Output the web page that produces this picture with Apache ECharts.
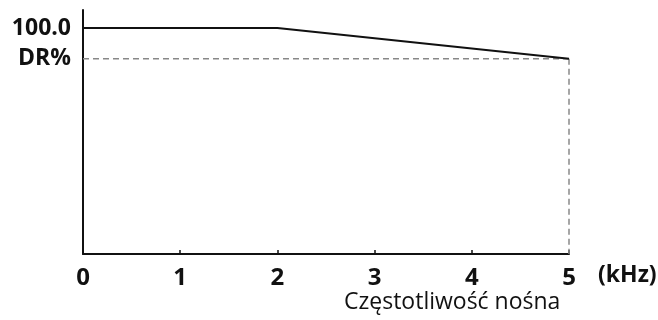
<!DOCTYPE html>
<html>
<head>
<meta charset="utf-8">
<script src="https://cdn.jsdelivr.net/npm/echarts@6/dist/echarts.min.js"></script>
<style>
  html, body { margin: 0; padding: 0; background: #fff; }
  #chart { width: 658px; height: 320px; }
</style>
</head>
<body>
<div id="chart"></div>
<script>
// carrier frequency (kHz) vs derating (%)
const freqTicks = [0, 1, 2, 3, 4, 5];
const DR = 86.4;
const curveX = [0, 2, 5];
const curveY = [100, 100, DR];
const yLabelValues = [100, DR];
const yLabelTexts = ['100.0', 'DR%'];

const chart = echarts.init(document.getElementById('chart'));

const FONT = '"Open Sans", sans-serif';
const INK = '#111';

chart.setOption({
  animation: false,
  grid: { left: 83, right: 89, top: 10, bottom: 66, outerBoundsMode: 'none', containLabel: false },
  xAxis: {
    type: 'value',
    min: freqTicks[0],
    max: freqTicks[freqTicks.length - 1],
    interval: 1,
    splitLine: { show: false },
    axisLine: { lineStyle: { color: INK, width: 2 } },
    axisTick: { show: true, inside: true, length: 4, lineStyle: { color: INK, width: 1.5 } },
    axisLabel: {
      margin: 12, color: INK, fontFamily: FONT, fontWeight: 700, fontSize: 24
    },
    name: '(kHz)',
    nameLocation: 'end',
    nameGap: 29,
    nameTextStyle: {
      color: INK, fontFamily: FONT, fontWeight: 700, fontSize: 23,
      verticalAlign: 'top', padding: [10, 0, 0, 0]
    }
  },
  yAxis: {
    type: 'value',
    min: 0,
    max: 108,
    splitLine: { show: false },
    axisLine: { show: true, lineStyle: { color: INK, width: 2 } },
    axisTick: { show: false },
    axisLabel: {
      customValues: yLabelValues,
      margin: 12,
      color: INK, fontFamily: FONT, fontWeight: 700, fontSize: 23,
      formatter: function (v) {
        const i = yLabelValues.indexOf(v);
        return i >= 0 ? yLabelTexts[i] : '';
      }
    }
  },
  graphic: [{
    type: 'text',
    left: 344,
    top: 291,
    style: {
      text: 'Częstotliwość nośna',
      fill: INK,
      font: '400 23px "Open Sans", sans-serif'
    }
  }],
  series: [
    {
      type: 'line',
      data: curveX.map((x, i) => [x, curveY[i]]),
      symbol: 'none',
      lineStyle: { color: INK, width: 2 },
      z: 3
    },
    {
      type: 'line',
      data: [[0, DR], [5, DR]],
      symbol: 'none',
      lineStyle: { color: '#888', width: 1.5, type: [6, 4] },
      z: 2
    },
    {
      type: 'line',
      data: [[5, DR], [5, 0]],
      symbol: 'none',
      lineStyle: { color: '#888', width: 1.5, type: [6, 4] },
      z: 2
    }
  ]
});
</script>
</body>
</html>
